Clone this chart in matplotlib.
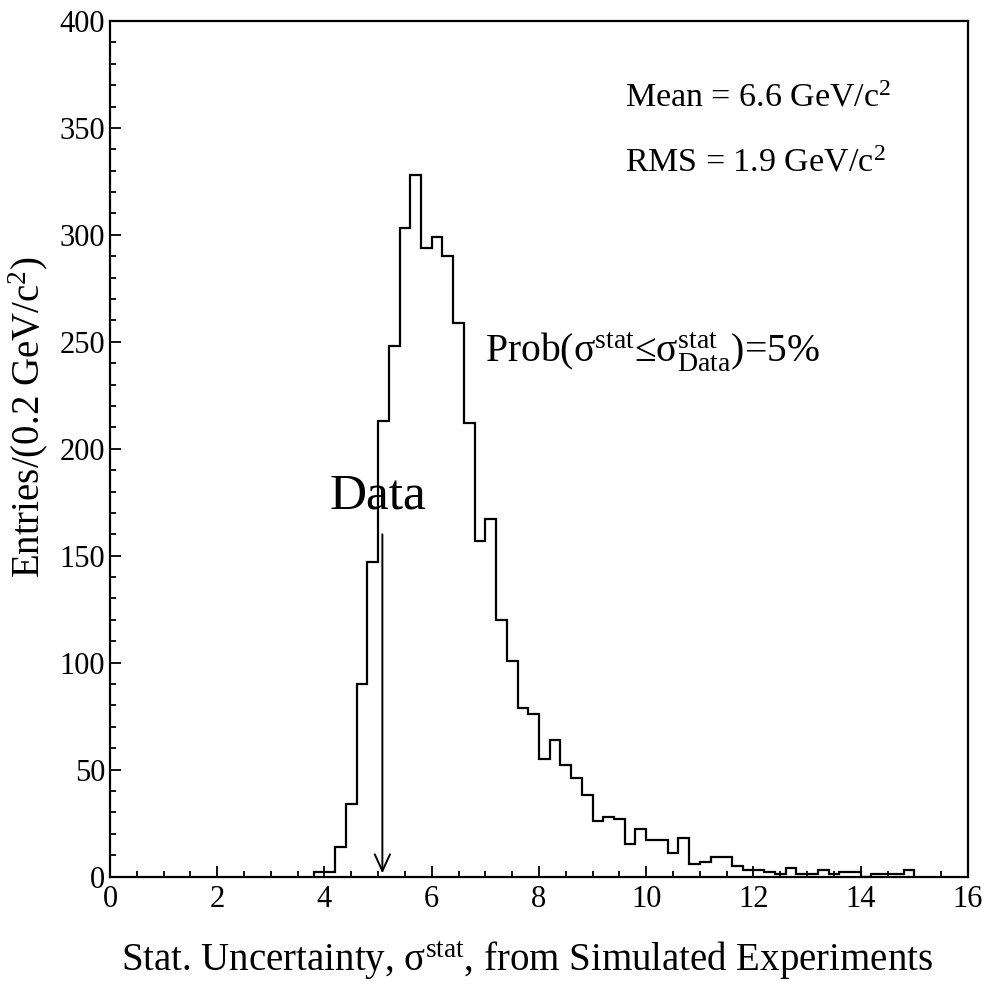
import numpy as np
import matplotlib
matplotlib.use("Agg")
import matplotlib.pyplot as plt
from matplotlib.ticker import MultipleLocator

plt.rcParams['font.family'] = ['Liberation Serif', 'DejaVu Serif']
plt.rcParams['mathtext.fontset'] = 'custom'
plt.rcParams['mathtext.rm'] = 'Liberation Serif'
plt.rcParams['mathtext.it'] = 'Liberation Serif:italic'

# histogram of stat. uncertainty from pseudo-experiments, 0.2 GeV/c^2 bins
bin_lo = 3.8
bin_width = 0.2
counts = [2, 2, 14, 34, 90, 147, 213, 248, 303, 328,
          294, 299, 290, 259, 212, 157, 167, 120, 101, 79,
          76, 55, 64, 52, 46, 38, 26, 28, 27, 15,
          22, 17, 17, 11, 18, 6, 7, 9, 9, 5,
          3, 3, 2, 1, 4, 1, 1, 3, 1, 2,
          2, 0, 1, 1, 1, 3]
data_value = 5.08
arrow_top = 160

edges = bin_lo + bin_width * np.arange(len(counts) + 1)

fig = plt.figure(figsize=(9.88, 9.84), dpi=100)
ax = fig.add_axes([0.1113, 0.1092, 0.8684, 0.8695])

ax.stairs(counts, edges, color='black', lw=1.6, baseline=0)

ax.set_xlim(0, 16)
ax.set_ylim(0, 400)
ax.xaxis.set_major_locator(MultipleLocator(2))
ax.xaxis.set_minor_locator(MultipleLocator(0.5))
ax.yaxis.set_major_locator(MultipleLocator(50))
ax.yaxis.set_minor_locator(MultipleLocator(10))
ax.tick_params(which='both', direction='in', top=False, right=False,
               labelsize=22, width=1.3)
ax.tick_params(which='major', length=8)
ax.tick_params(which='minor', length=4)
ax.tick_params(axis='x', pad=6)
for s in ax.spines.values():
    s.set_linewidth(1.6)

ax.set_xlabel(r"Stat. Uncertainty, σ$^{\rm stat}$, from Simulated Experiments",
              fontsize=28)
ax.xaxis.set_label_coords(0.486, -0.074)
ax.set_ylabel(r"Entries/(0.2 GeV/c$^{2}$)", fontsize=28)
ax.yaxis.set_label_coords(-0.07, 0.537)

ax.text(9.6, 360, r"Mean = 6.6 GeV/c$^{2}$", fontsize=24.5, va='baseline')
ax.text(9.6, 329.5, r"RMS = 1.9 GeV/c$^{2}$", fontsize=24.5, va='baseline')
ax.text(7.0, 240.5, r"Prob(σ$^{\rm stat}$≤σ$^{\rm stat}_{\rm Data}$)=5%",
        fontsize=28.5, va='baseline')
ax.text(4.1, 172, "Data", fontsize=37, va='baseline')

ax.annotate('', xy=(data_value, 1.5), xytext=(data_value, arrow_top),
            arrowprops=dict(arrowstyle='->,head_length=1.2,head_width=0.55',
                            lw=1.4, color='black', shrinkA=0, shrinkB=0))

fig.savefig("out.png", dpi=100)
